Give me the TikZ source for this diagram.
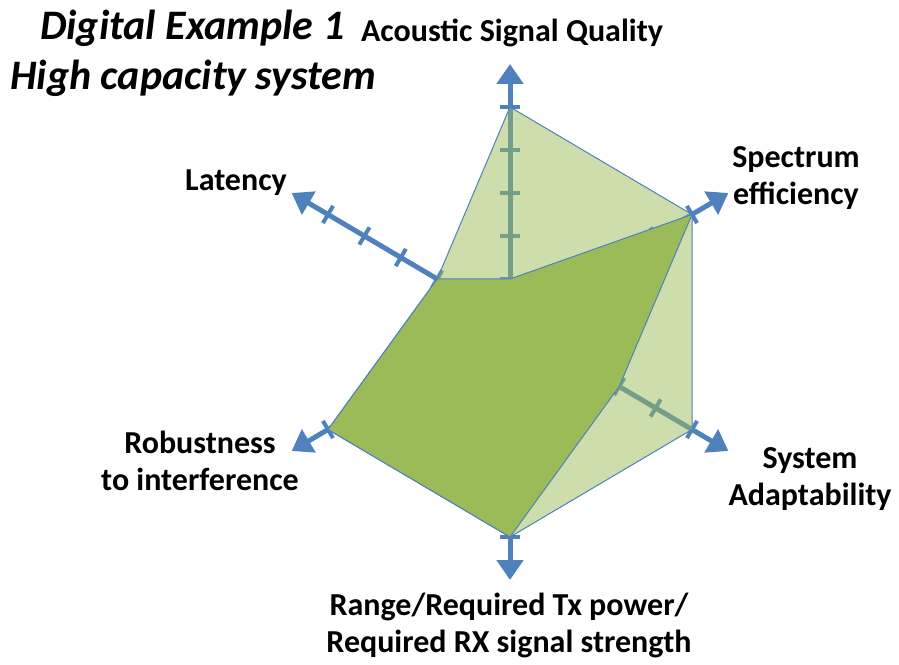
\documentclass[tikz,border=0pt]{standalone}
\usepackage{fontspec}
\setmainfont{Carlito}
\usetikzlibrary{arrows.meta,calc}
\definecolor{axisblue}{HTML}{4F81BD}
\definecolor{olivegreen}{HTML}{9BBB59}
\begin{document}
\begin{tikzpicture}[x=1pt,y=1pt,
  axisline/.style={draw=axisblue,line width=5pt,-{Triangle[width=26pt,length=20pt]}},
  tickline/.style={draw=axisblue,line width=4pt},
  outline/.style={draw=axisblue,line width=1pt,line join=round},
  lab/.style={font=\bfseries\fontsize{32}{37}\selectfont,align=center,inner sep=0pt},
  ttl/.style={font=\bfseries\itshape\fontsize{42}{44}\selectfont,inner sep=0pt,anchor=west}]
\useasboundingbox (0,0) rectangle (899,664);
\coordinate (C) at (510,342);
\foreach \n/\dx/\dy in {q/0/43, s/36.4/21.5, a/36.4/-21.5, r/0/-43, b/-36.4/-21.5, l/-36.4/21.5}{
  \foreach \k in {1,...,6}{
    \coordinate (\n\k) at ($(C)+\k*(\dx,\dy)$);
  }
}
% axes
\foreach \n in {q,s,a,r,b,l}{
  \draw[axisline] (C) -- (\n6);
  \foreach \k in {1,...,5}{
    \draw[tickline] ($(\n\k)!10pt!90:(C)$) -- ($(\n\k)!10pt!-90:(C)$);
  }
}
% light series
\filldraw[outline,fill=olivegreen,fill opacity=0.5] (q5) -- (s5) -- (a5) -- (r5) -- (b5) -- (l2) -- cycle;
% dark series
\filldraw[outline,fill=olivegreen] (q1) -- (s5) -- (a3) -- (r5) -- (b5) -- (l2) -- cycle;
% labels
\node[ttl] (t1) at (40,636) {Digital Example 1};
\node[ttl] (t2) at (10,586) {High capacity system};
\node[lab] (lq) at (512,631) {Acoustic Signal Quality};
\node[lab] (ls) at (796,486) {Spectrum\\efficiency};
\node[lab] (ll) at (236,481) {Latency};
\node[lab] (lb) at (200,203) {Robustness\\to interference};
\node[lab] (la) at (810,185) {System\\Adaptability};
\node[lab] (lr) at (509,39) {Range/Required Tx power/\\Required RX signal strength};
\end{tikzpicture}
\end{document}
